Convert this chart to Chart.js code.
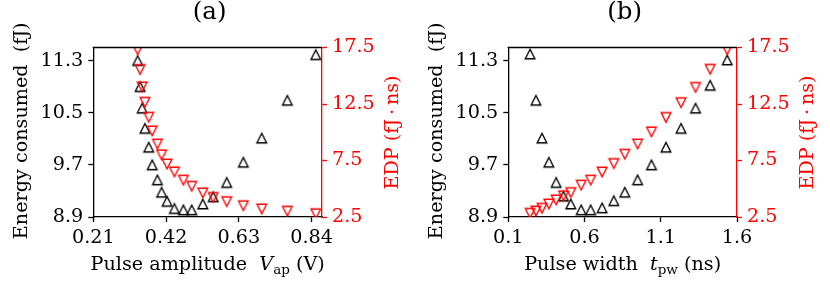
<!DOCTYPE html>
<html>
<head>
<meta charset="utf-8">
<script src="https://cdn.jsdelivr.net/npm/chart.js@4.4.0/dist/chart.umd.min.js"></script>
<style>
  html, body { margin: 0; padding: 0; background: #fff; }
  #wrap { display: flex; width: 830px; height: 288px; }
  .panel { width: 415px; height: 288px; }
</style>
</head>
<body>
<div id="wrap">
  <div class="panel"><canvas id="chartA" width="415" height="288"></canvas></div>
  <div class="panel"><canvas id="chartB" width="415" height="288"></canvas></div>
</div>
<script>
// ----- Data -----
// (a) sweep of pulse amplitude
const ampV      = [0.338,0.345,0.351,0.359,0.370,0.380,0.395,0.407,0.423,0.444,0.470,0.494,0.526,0.556,0.595,0.643,0.696,0.770,0.852];
const ampEnergy = [11.30,10.90,10.57,10.26,9.97,9.70,9.47,9.28,9.14,9.03,9.01,9.01,9.10,9.21,9.43,9.74,10.11,10.69,11.39];
const ampEdp    = [17.3,15.55,14.01,12.65,11.33,10.12,8.96,8.00,7.19,6.49,5.76,5.22,4.63,4.23,3.86,3.50,3.21,3.01,2.79];

// (b) sweep of pulse width
const widthNs     = [0.243,0.281,0.321,0.366,0.414,0.462,0.510,0.578,0.640,0.715,0.792,0.864,0.948,1.039,1.134,1.233,1.328,1.424,1.536];
const widthEnergy = [11.40,10.69,10.11,9.74,9.43,9.22,9.10,9.01,9.01,9.04,9.15,9.28,9.47,9.70,9.97,10.26,10.57,10.92,11.31];
const widthEdp    = [2.83,3.03,3.27,3.65,4.01,4.38,4.66,5.32,5.76,6.48,7.23,8.05,8.96,10.03,11.31,12.62,13.97,15.57,17.30];

// tick labels
const ampTicks    = [0.21, 0.42, 0.63, 0.84];
const widthTicks  = [0.1, 0.6, 1.1, 1.6];
const energyTicks = [8.9, 9.7, 10.5, 11.3];
const edpTicks    = [2.5, 7.5, 12.5, 17.5];

// ----- Helpers -----
const FONT = 'DejaVu Serif';
const FS = 19.2;
const RED = '#ff0000';
const LW = 1.3;

function triMarker(color, down) {
  const c = document.createElement('canvas');
  c.width = c.height = 16;
  const g = c.getContext('2d');
  const h = 4.8, cx = 8, cy = 8;
  g.strokeStyle = color;
  g.lineWidth = 1.4;
  g.beginPath();
  if (!down) {
    g.moveTo(cx, cy - h); g.lineTo(cx + h, cy + h); g.lineTo(cx - h, cy + h);
  } else {
    g.moveTo(cx, cy + h); g.lineTo(cx + h, cy - h); g.lineTo(cx - h, cy - h);
  }
  g.closePath();
  g.stroke();
  return c;
}
const upMark = triMarker('#000', false);
const downMark = triMarker(RED, true);

const fixTicks = (vals) => (s) => { s.ticks = vals.map(v => ({ value: v })); };

// draw a run of text pieces (for sub-scripts)
function drawRun(ctx, parts, cx, cy, rotate) {
  ctx.save();
  ctx.translate(cx, cy);
  if (rotate) ctx.rotate(-Math.PI / 2);
  let total = 0;
  parts.forEach(p => { ctx.font = p.f; total += ctx.measureText(p.t).width; });
  let x = -total / 2;
  ctx.textBaseline = 'alphabetic';
  parts.forEach(p => {
    ctx.font = p.f;
    ctx.fillStyle = p.c || '#000';
    ctx.fillText(p.t, x, p.dy || 0);
    x += ctx.measureText(p.t).width;
  });
  ctx.restore();
}

function labelsPlugin(title, xParts) {
  return {
    id: 'labels',
    afterDraw(chart) {
      const { ctx, chartArea: a } = chart;
      // top spine
      ctx.save();
      ctx.strokeStyle = '#000';
      ctx.lineWidth = LW;
      ctx.beginPath();
      ctx.moveTo(a.left - LW / 2, a.top);
      ctx.lineTo(a.right, a.top);
      ctx.stroke();
      ctx.restore();

      const mid = (a.left + a.right) / 2;
      drawRun(ctx, [{ t: title, f: `24.5px "${FONT}"` }], mid + 2, 19, false);
      drawRun(ctx, xParts, mid, 269.5, false);
      drawRun(ctx, [{ t: 'Energy consumed  (fJ)', f: `${FS}px "${FONT}"` }], 27, 130.8, true);
      drawRun(ctx, [{ t: 'EDP (fJ\u2009\u00b7\u2009ns)', f: `${FS}px "${FONT}"`, c: RED }], 398, 132.5, true);
    }
  };
}

function makeChart(id, xs, energy, edp, xMin, xMax, xTicks, xDigits, title, xParts) {
  const tickFont = { family: FONT, size: FS };
  return new Chart(document.getElementById(id), {
    type: 'scatter',
    data: {
      datasets: [
        {
          data: xs.map((x, i) => ({ x, y: edp[i] })),
          yAxisID: 'y1', pointStyle: downMark, clip: 0, order: 0
        },
        {
          data: xs.map((x, i) => ({ x, y: energy[i] })),
          yAxisID: 'y', pointStyle: upMark, clip: 0, order: 1
        }
      ]
    },
    options: {
      responsive: false,
      animation: false,
      devicePixelRatio: 1,
      layout: { padding: { top: 47.5, left: 0, right: 0, bottom: 0 } },
      plugins: { legend: { display: false }, tooltip: { enabled: false } },
      scales: {
        x: {
          type: 'linear', min: xMin, max: xMax,
          afterBuildTicks: fixTicks(xTicks),
          afterFit: s => { s.height = 71; },
          ticks: { font: tickFont, color: '#000', padding: 4, maxRotation: 0, autoSkip: false,
                   callback: v => Number(v).toFixed(xDigits) },
          grid: { drawOnChartArea: false, tickLength: 5, tickWidth: LW, color: '#000' },
          border: { color: '#000', width: LW }
        },
        y: {
          position: 'left', min: 8.9, max: 11.5,
          afterBuildTicks: fixTicks(energyTicks),
          afterFit: s => { s.width = 93.3; },
          ticks: { font: tickFont, color: '#000', padding: 5, callback: v => Number(v).toFixed(1) },
          grid: { drawOnChartArea: false, tickLength: 5, tickWidth: LW, color: '#000' },
          border: { color: '#000', width: LW }
        },
        y1: {
          position: 'right', min: 2.5, max: 17.5,
          afterBuildTicks: fixTicks(edpTicks),
          afterFit: s => { s.width = 93; },
          ticks: { font: tickFont, color: RED, padding: 5, callback: v => Number(v).toFixed(1) },
          grid: { drawOnChartArea: false, tickLength: 5, tickWidth: LW, color: RED },
          border: { color: RED, width: LW }
        }
      }
    },
    plugins: [labelsPlugin(title, xParts)]
  });
}

window.addEventListener('DOMContentLoaded', () => {
  const f = `${FS}px "${FONT}"`, fi = `italic ${FS}px "${FONT}"`, fs = `13.5px "${FONT}"`;
  makeChart('chartA', ampV, ampEnergy, ampEdp, 0.21, 0.87, ampTicks, 2, '(a)', [
    { t: 'Pulse amplitude  ', f }, { t: 'V', f: fi }, { t: 'ap', f: fs, dy: 4 }, { t: ' (V)', f }
  ]);
  makeChart('chartB', widthNs, widthEnergy, widthEdp, 0.1, 1.6, widthTicks, 1, '(b)', [
    { t: 'Pulse width  ', f }, { t: 't', f: fi }, { t: 'pw', f: fs, dy: 4 }, { t: ' (ns)', f }
  ]);
});
</script>
</body>
</html>
